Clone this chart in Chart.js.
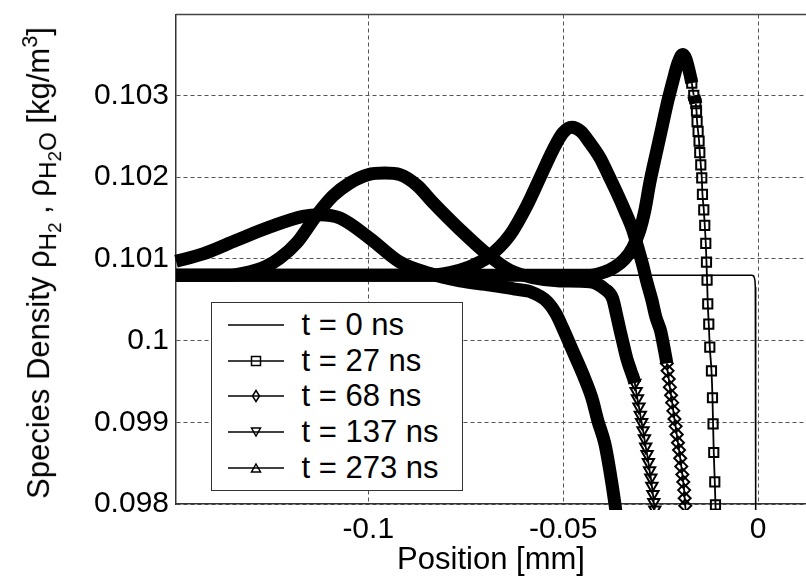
<!DOCTYPE html>
<html>
<head>
<meta charset="utf-8">
<script src="https://cdn.jsdelivr.net/npm/chart.js@4.4.1/dist/chart.umd.min.js"></script>
<style>
  body { margin: 0; background: #fff; }
  #wrap { position: relative; width: 806px; height: 576px; overflow: hidden;
          font-family: 'Liberation Sans', Arial, sans-serif; color: #000; }
  #yTitle { position: absolute; left: 42px; top: 263px; white-space: nowrap; font-size: 31px;
            transform: translate(-50%, -50%) rotate(-90deg); line-height: 1; }
  #yTitle sub { font-size: 0.78em; vertical-align: -0.28em; }
  #yTitle sup { font-size: 0.7em; vertical-align: 0.55em; }
  #legend { position: absolute; left: 211px; top: 302px; width: 252px; height: 189px;
            box-sizing: border-box; border: 1.5px solid #333; background: #fff;
            padding-top: 4px; font-size: 31px; }
  #legend .row { height: 35.75px; display: flex; align-items: center; }
  #legend svg { margin-left: 15.5px; }
  #legend span { margin-left: 18px; white-space: nowrap; }
</style>
</head>
<body>
<div id="wrap">
  <canvas id="densityChart" width="806" height="576"></canvas>
  <div id="yTitle">Species Density ρ<sub>H<sub>2</sub></sub> , ρ<sub>H<sub>2</sub>O</sub> [kg/m<sup>3</sup>]</div>
  <div id="legend"></div>
</div>
<script>
const times = ['t = 0 ns', 't = 27 ns', 't = 68 ns', 't = 137 ns', 't = 273 ns'];
const xTicks = [-0.1, -0.05, 0];
const yTicks = [0.098, 0.099, 0.1, 0.101, 0.102, 0.103];

// [position mm, density kg/m3]
const t0 = [[-0.14931, 0.10080], [-0.00160, 0.10080], [-0.00110, 0.10079], [-0.00080, 0.10074],
    [-0.00070, 0.10065], [-0.00060, 0.09750]];

const t27 = [[-0.14931, 0.10080], [-0.11751, 0.10080], [-0.07905, 0.10080], [-0.04315, 0.10080],
    [-0.03931, 0.10084], [-0.03674, 0.10090], [-0.03418, 0.10100], [-0.03213, 0.10114],
    [-0.03033, 0.10135], [-0.02905, 0.10159], [-0.02777, 0.10193], [-0.02623, 0.10227],
    [-0.02469, 0.10260], [-0.02315, 0.10293], [-0.02187, 0.10317], [-0.02059, 0.10339],
    [-0.01931, 0.10350], [-0.01854, 0.10345], [-0.01777, 0.10332], [-0.01700, 0.10315],
    [-0.01649, 0.10300], [-0.01597, 0.10290], [-0.01579, 0.10281], [-0.01564, 0.10268],
    [-0.01538, 0.10256], [-0.01513, 0.10244], [-0.01495, 0.10230], [-0.01469, 0.10215],
    [-0.01444, 0.10199], [-0.01426, 0.10179], [-0.01392, 0.10160], [-0.01367, 0.10141],
    [-0.01341, 0.10119], [-0.01323, 0.10096], [-0.01308, 0.10074], [-0.01290, 0.10045],
    [-0.01264, 0.10020], [-0.01238, 0.09992], [-0.01195, 0.09963], [-0.01169, 0.09930],
    [-0.01154, 0.09898], [-0.01136, 0.09863], [-0.01110, 0.09827], [-0.01092, 0.09799],
    [-0.01072, 0.09768]];

const t68 = [[-0.14931, 0.10080], [-0.11751, 0.10080], [-0.08418, 0.10080], [-0.07905, 0.10083],
    [-0.07469, 0.10089], [-0.06931, 0.10102], [-0.06367, 0.10129], [-0.05931, 0.10165],
    [-0.05597, 0.10199], [-0.05264, 0.10233], [-0.05008, 0.10254], [-0.04777, 0.10261],
    [-0.04546, 0.10256], [-0.04315, 0.10242], [-0.04059, 0.10224], [-0.03803, 0.10199],
    [-0.03623, 0.10181], [-0.03418, 0.10159], [-0.03213, 0.10135], [-0.03085, 0.10114],
    [-0.02956, 0.10092], [-0.02854, 0.10072], [-0.02726, 0.10050], [-0.02623, 0.10029],
    [-0.02495, 0.10011], [-0.02444, 0.09999], [-0.02392, 0.09986], [-0.02341, 0.09972],
    [-0.02321, 0.09963], [-0.02290, 0.09953], [-0.02262, 0.09943], [-0.02231, 0.09933],
    [-0.02203, 0.09924], [-0.02174, 0.09914], [-0.02144, 0.09904], [-0.02115, 0.09895],
    [-0.02085, 0.09885], [-0.02054, 0.09875], [-0.02026, 0.09866], [-0.01997, 0.09856],
    [-0.01969, 0.09846], [-0.01941, 0.09836], [-0.01918, 0.09827], [-0.01897, 0.09817],
    [-0.01882, 0.09807], [-0.01867, 0.09798], [-0.01854, 0.09788]];

const t137 = [[-0.14931, 0.10080], [-0.13546, 0.10080], [-0.13033, 0.10084], [-0.12649, 0.10090],
    [-0.12264, 0.10101], [-0.11828, 0.10120], [-0.11315, 0.10154], [-0.10905, 0.10177],
    [-0.10469, 0.10193], [-0.10008, 0.10203], [-0.09572, 0.10205], [-0.09187, 0.10203],
    [-0.08751, 0.10190], [-0.08341, 0.10169], [-0.07649, 0.10136], [-0.06931, 0.10105],
    [-0.06367, 0.10086], [-0.05777, 0.10077], [-0.05085, 0.10073], [-0.04315, 0.10072],
    [-0.03931, 0.10063], [-0.03726, 0.10051], [-0.03636, 0.10033], [-0.03533, 0.10011],
    [-0.03444, 0.09993], [-0.03367, 0.09978], [-0.03264, 0.09963], [-0.03162, 0.09948],
    [-0.03128, 0.09938], [-0.03095, 0.09929], [-0.03056, 0.09919], [-0.03021, 0.09909],
    [-0.02987, 0.09900], [-0.02951, 0.09890], [-0.02915, 0.09880], [-0.02882, 0.09870],
    [-0.02846, 0.09861], [-0.02813, 0.09851], [-0.02782, 0.09841], [-0.02751, 0.09832],
    [-0.02723, 0.09822], [-0.02697, 0.09812], [-0.02674, 0.09802], [-0.02649, 0.09793]];

const t273 = [[-0.14931, 0.10097], [-0.14238, 0.10106], [-0.13367, 0.10123], [-0.12521, 0.10139],
    [-0.11674, 0.10152], [-0.11238, 0.10154], [-0.10726, 0.10150], [-0.09956, 0.10125],
    [-0.09187, 0.10096], [-0.08418, 0.10082], [-0.07649, 0.10073], [-0.06879, 0.10068],
    [-0.06238, 0.10063], [-0.05854, 0.10060], [-0.05418, 0.10048], [-0.05187, 0.10033],
    [-0.05008, 0.10015], [-0.04751, 0.09987], [-0.04495, 0.09959], [-0.04264, 0.09930],
    [-0.04110, 0.09902], [-0.03931, 0.09874], [-0.03803, 0.09841], [-0.03674, 0.09801],
    [-0.03636, 0.09787]];

const series = [t0, t27, t68, t137, t273];
const shapes = [false, 'rect', 'rectRot', 'triangle', 'triangle'];
const rotations = [0, 0, 0, 180, 0];
const markerSizes = [0, 6.5, 6, 6.5, 6.5];
// pixel slope above which the dense marker band breaks up into single markers
const steepness = [Infinity, 6, 6, 5, 9];

const family = "'Liberation Sans', Arial, sans-serif";
Chart.defaults.font.family = family;
Chart.defaults.color = '#000';

function slopeBetween(chart, a, b) {
    const xs = chart.scales.x, ys = chart.scales.y;
    const dx = Math.abs(xs.getPixelForValue(b.x) - xs.getPixelForValue(a.x));
    const dy = Math.abs(ys.getPixelForValue(b.y) - ys.getPixelForValue(a.y));
    return dy / Math.max(dx, 0.001);
}

function markerRadius(ctx) {
    if (ctx.type !== 'data') return 0;
    const ds = ctx.dataset, d = ds.data, i = ctx.dataIndex;
    let steep = false;
    if (i > 0 && slopeBetween(ctx.chart, d[i - 1], d[i]) >= ds.steep) steep = true;
    if (i < d.length - 1 && slopeBetween(ctx.chart, d[i], d[i + 1]) >= ds.steep) steep = true;
    return steep ? ds.markerSize : 0;
}

function bandWidth(ctx) {
    const ds = ctx.chart.data.datasets[ctx.datasetIndex];
    const s = Math.abs(ctx.p1.y - ctx.p0.y) / Math.max(Math.abs(ctx.p1.x - ctx.p0.x), 0.001);
    return s < ds.steep ? 13 : 1.8;
}

const datasets = series.map((pts, i) => ({
    label: times[i],
    data: pts.map(p => ({x: p[0], y: p[1]})),
    borderColor: '#000',
    borderWidth: 1.5,
    borderCapStyle: 'butt',
    borderJoinStyle: 'round',
    cubicInterpolationMode: i ? 'monotone' : 'default',
    tension: 0,
    pointStyle: shapes[i],
    pointRotation: rotations[i],
    pointRadius: i ? markerRadius : 0,
    pointBorderColor: '#000',
    pointBackgroundColor: 'rgba(0,0,0,0)',
    pointBorderWidth: 2,
    segment: i ? { borderWidth: bandWidth } : undefined,
    steep: steepness[i],
    markerSize: markerSizes[i],
    clip: 6
}));

const topFrame = {
    id: 'topFrame',
    beforeDatasetsDraw(chart) {
        const {ctx, chartArea: a} = chart;
        ctx.save();
        ctx.strokeStyle = '#444';
        ctx.lineWidth = 1.5;
        ctx.beginPath();
        ctx.moveTo(a.left, a.top);
        ctx.lineTo(a.right, a.top);
        ctx.stroke();
        ctx.restore();
    }
};

new Chart(document.getElementById('densityChart').getContext('2d'), {
    type: 'line',
    data: { datasets: datasets },
    options: {
        responsive: false,
        animation: false,
        events: [],
        layout: { padding: { top: 10, left: 0, right: 0, bottom: 0 } },
        plugins: { legend: { display: false }, tooltip: { enabled: false } },
        scales: {
            x: {
                type: 'linear',
                min: -0.14931,
                max: 0.0123,
                afterBuildTicks: s => { s.ticks = xTicks.map(v => ({value: v})); },
                afterFit: s => { s.height = 72; },
                ticks: {
                    font: { size: 30 },
                    padding: 8,
                    maxRotation: 0,
                    callback: v => String(+v.toFixed(2))
                },
                grid: { color: '#555', lineWidth: 1, drawTicks: false },
                border: { display: true, color: '#333', width: 1.5, dash: [4, 3] },
                title: {
                    display: true,
                    text: 'Position [mm]',
                    font: { size: 31, lineHeight: 1 },
                    padding: { top: 0, bottom: 0 }
                }
            },
            y: {
                min: 0.098,
                max: 0.10399,
                afterBuildTicks: s => { s.ticks = yTicks.map(v => ({value: v})); },
                afterFit: s => { s.width = 176; },
                ticks: {
                    font: { size: 30, lineHeight: 0.5 },
                    padding: 7,
                    callback: v => String(+v.toFixed(3))
                },
                grid: { color: '#555', lineWidth: 1, drawTicks: false },
                border: { display: true, color: '#333', width: 1.5, dash: [4, 3] }
            }
        }
    },
    plugins: [topFrame]
});

// legend inside the plot, MATLAB style
const sampleMarks = [
    '',
    '<rect x="23.5" y="5.5" width="9" height="9" fill="none" stroke="#000" stroke-width="1.5"/>',
    '<polygon points="28,4.5 31.5,10 28,15.5 24.5,10" fill="none" stroke="#000" stroke-width="1.5"/>',
    '<polygon points="23.5,6 32.5,6 28,14" fill="none" stroke="#000" stroke-width="1.5"/>',
    '<polygon points="28,6 32.5,14 23.5,14" fill="none" stroke="#000" stroke-width="1.5"/>'
];
const legendBox = document.getElementById('legend');
times.forEach((label, i) => {
    const row = document.createElement('div');
    row.className = 'row';
    row.innerHTML = '<svg width="56" height="20"><line x1="0" y1="10" x2="56" y2="10" stroke="#000" stroke-width="1.5"/>' +
        sampleMarks[i] + '</svg><span>' + label + '</span>';
    legendBox.appendChild(row);
});
</script>
</body>
</html>
